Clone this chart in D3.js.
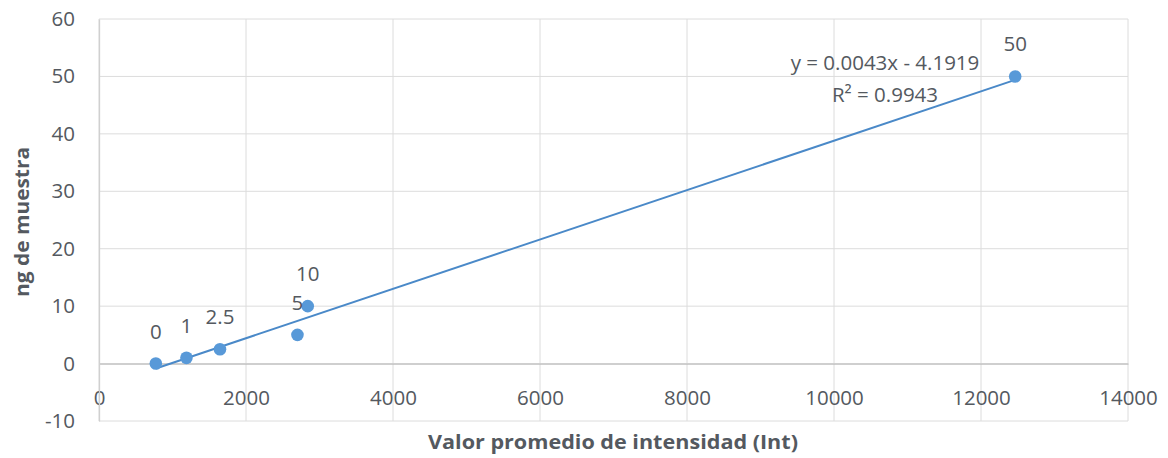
<!DOCTYPE html>
<html>
<head>
<meta charset="utf-8">
<script src="https://cdn.jsdelivr.net/npm/d3@7/dist/d3.min.js"></script>
<style>
  html, body { margin: 0; padding: 0; background: #fff; }
  svg { display: block; font-family: "Open Sans", Lato, sans-serif; }
</style>
</head>
<body>
<svg id="chart" width="1168" height="458"></svg>
<script>
// Calibration standards: mean intensity vs. ng of sample
const intensity = [773, 1190, 1646, 2700, 2840, 12465];
const ngSample = [0, 1, 2.5, 5, 10, 50];
const pointLabels = ["0", "1", "2.5", "5", "10", "50"];

// Linear fit reported for the calibration
const slope = 0.0043;
const intercept = -4.1919;
const equationLines = ["y = 0.0043x - 4.1919", "R² = 0.9943"];

const xTicks = [0, 2000, 4000, 6000, 8000, 10000, 12000, 14000];
const yTicks = [-10, 0, 10, 20, 30, 40, 50, 60];

const xTitle = "Valor promedio de intensidad (Int)";
const yTitle = "ng de muestra";

const svg = d3.select("#chart");
const plotLeft = 99, plotRight = 1128, plotTop = 19, plotBottom = 421;
const textColor = "#545960";
const markColor = "#5899d8";
const labelSize = "20.5px";

const x = d3.scaleLinear().domain([0, 14000]).range([plotLeft, plotRight]);
const y = d3.scaleLinear().domain([-10, 60]).range([plotBottom, plotTop]);

// Gridlines
const grid = svg.append("g");
grid.selectAll("line.v").data(xTicks).join("line")
  .attr("x1", d => x(d)).attr("x2", d => x(d))
  .attr("y1", plotTop).attr("y2", plotBottom)
  .attr("stroke", "#dcdcdc").attr("stroke-width", 1);
grid.selectAll("line.h").data(yTicks).join("line")
  .attr("x1", plotLeft).attr("x2", plotRight)
  .attr("y1", d => y(d)).attr("y2", d => y(d))
  .attr("stroke", "#dcdcdc").attr("stroke-width", 1);

// Horizontal axis sits on y = 0
const xAxis = svg.append("g")
  .attr("transform", `translate(0,${y(0)})`)
  .call(d3.axisBottom(x).tickValues(xTicks).tickSize(0).tickPadding(27).tickFormat(d3.format("d")));
xAxis.select(".domain").attr("stroke", "#bfbfbf").attr("stroke-width", 1.3);
xAxis.selectAll("text").attr("fill", textColor)
  .style("font-size", labelSize).style("font-family", "Open Sans");

// Vertical axis
const yAxis = svg.append("g")
  .attr("transform", `translate(${plotLeft},0)`)
  .call(d3.axisLeft(y).tickValues(yTicks).tickSize(0).tickPadding(24).tickFormat(d => d < 0 ? "-" + Math.abs(d) : d));
yAxis.select(".domain").attr("stroke", "#d0d0d0").attr("stroke-width", 1.3);
yAxis.selectAll("text").attr("fill", textColor)
  .style("font-size", labelSize).style("font-family", "Open Sans");

// Trendline over the range of the standards
const xMin = d3.min(intensity), xMax = d3.max(intensity);
svg.append("line")
  .attr("x1", x(xMin)).attr("y1", y(slope * xMin + intercept))
  .attr("x2", x(xMax)).attr("y2", y(slope * xMax + intercept))
  .attr("stroke", "#4a89c8").attr("stroke-width", 2);

// Points
const pts = intensity.map((v, i) => ({ x: v, y: ngSample[i], label: pointLabels[i] }));
svg.selectAll("circle.pt").data(pts).join("circle")
  .attr("cx", d => x(d.x)).attr("cy", d => y(d.y)).attr("r", 6.3)
  .attr("fill", markColor);

// Point labels
svg.selectAll("text.pl").data(pts).join("text")
  .attr("x", d => x(d.x)).attr("y", d => y(d.y) - 25)
  .attr("text-anchor", "middle")
  .attr("fill", textColor).style("font-size", labelSize)
  .text(d => d.label);

// Equation and R²
svg.selectAll("text.eq").data(equationLines).join("text")
  .attr("x", 885).attr("y", (d, i) => 70 + i * 32)
  .attr("text-anchor", "middle")
  .attr("fill", textColor).style("font-size", labelSize)
  .text(d => d);

// Axis titles
svg.append("text")
  .attr("x", 613).attr("y", 449)
  .attr("text-anchor", "middle").attr("fill", textColor)
  .attr("textLength", 370).attr("lengthAdjust", "spacingAndGlyphs")
  .style("font-size", "19.5px").style("font-weight", "bold")
  .text(xTitle);
svg.append("text")
  .attr("transform", `translate(29,222) rotate(-90)`)
  .attr("text-anchor", "middle").attr("fill", textColor)
  .attr("textLength", 150).attr("lengthAdjust", "spacingAndGlyphs")
  .style("font-size", "19.5px").style("font-weight", "bold")
  .text(yTitle);
</script>
</body>
</html>
